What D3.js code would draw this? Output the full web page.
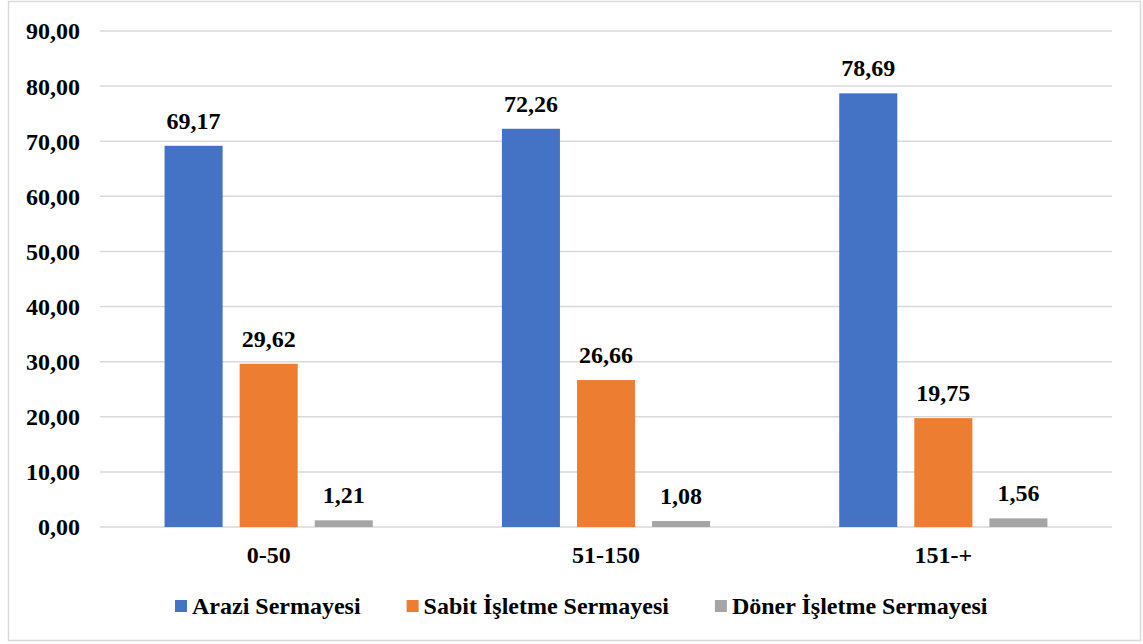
<!DOCTYPE html>
<html>
<head>
<meta charset="utf-8">
<style>
    body { margin: 0; background: white; }
    text { font-family: "Liberation Serif", "Times New Roman", serif; font-weight: bold; fill: black; }
</style>
<script src="https://cdn.jsdelivr.net/npm/d3@7/dist/d3.min.js"></script>
</head>
<body>
<div id="chart"></div>
<script>
    var categories = ['0-50', '51-150', '151-+'];
    var seriesNames = ['Arazi Sermayesi', 'Sabit İşletme Sermayesi', 'Döner İşletme Sermayesi'];
    var arazi = [69.17, 72.26, 78.69];
    var sabit = [29.62, 26.66, 19.75];
    var doner = [1.21, 1.08, 1.56];
    var yTicks = [0, 10, 20, 30, 40, 50, 60, 70, 80, 90];
    var colors = ['#4472C4', '#ED7D31', '#A5A5A5'];

    var series = [arazi, sabit, doner];
    var W = 1143, H = 644;
    var mLeft = 100, mRight = 1112, mTop = 31, mBottom = 527;

    var svg = d3.select('#chart').append('svg')
        .attr('width', W)
        .attr('height', H);

    // chart border
    svg.append('rect')
        .attr('x', 8.5).attr('y', 1.5)
        .attr('width', 1132).attr('height', 639)
        .attr('fill', 'white')
        .attr('stroke', '#D9D9D9')
        .attr('stroke-width', 1.5);

    var y = d3.scaleLinear().domain([0, 90]).range([mBottom, mTop]);
    var x0 = d3.scaleBand().domain(categories).range([mLeft, mRight]);
    var x1 = d3.scaleBand().domain(d3.range(3))
        .range([0, x0.bandwidth()])
        .paddingInner(0.227)
        .paddingOuter(0.86);

    var fmt = function(v) { return d3.format('.2f')(v).replace('.', ','); };

    // gridlines
    svg.append('g').selectAll('line')
        .data(yTicks)
        .enter().append('line')
        .attr('x1', mLeft).attr('x2', mRight)
        .attr('y1', function(d) { return y(d); })
        .attr('y2', function(d) { return y(d); })
        .attr('stroke', '#D9D9D9')
        .attr('stroke-width', 1.5);

    // y tick labels
    svg.append('g').selectAll('text')
        .data(yTicks)
        .enter().append('text')
        .attr('x', 80)
        .attr('y', function(d) { return y(d); })
        .attr('dy', '0.35em')
        .attr('text-anchor', 'end')
        .style('font-size', '24px')
        .text(fmt);

    // bars
    var groups = svg.append('g').selectAll('g')
        .data(categories)
        .enter().append('g')
        .attr('transform', function(d) { return 'translate(' + x0(d) + ',0)'; });

    groups.selectAll('rect')
        .data(function(d, i) { return series.map(function(s, j) { return {j: j, v: s[i]}; }); })
        .enter().append('rect')
        .attr('x', function(d) { return x1(d.j); })
        .attr('width', x1.bandwidth())
        .attr('y', function(d) { return y(d.v); })
        .attr('height', function(d) { return y(0) - y(d.v); })
        .attr('fill', function(d) { return colors[d.j]; });

    groups.selectAll('text')
        .data(function(d, i) { return series.map(function(s, j) { return {j: j, v: s[i]}; }); })
        .enter().append('text')
        .attr('x', function(d) { return x1(d.j) + x1.bandwidth() / 2; })
        .attr('y', function(d) { return y(d.v) - 17; })
        .attr('text-anchor', 'middle')
        .style('font-size', '24px')
        .text(function(d) { return fmt(d.v); });

    // category labels
    svg.append('g').selectAll('text')
        .data(categories)
        .enter().append('text')
        .attr('x', function(d) { return x0(d) + x0.bandwidth() / 2; })
        .attr('y', 563)
        .attr('text-anchor', 'middle')
        .style('font-size', '24px')
        .text(function(d) { return d; });

    // legend
    var legend = svg.append('g');
    var lx = 175;
    seriesNames.forEach(function(name, i) {
        var g = legend.append('g').attr('transform', 'translate(' + lx + ',0)');
        g.append('rect')
            .attr('x', 0).attr('y', 600)
            .attr('width', 12).attr('height', 12)
            .attr('fill', colors[i]);
        var t = g.append('text')
            .attr('x', 17).attr('y', 614)
            .style('font-size', '24px')
            .text(name);
        lx += 17 + t.node().getComputedTextLength() + 46;
    });
</script>
</body>
</html>
